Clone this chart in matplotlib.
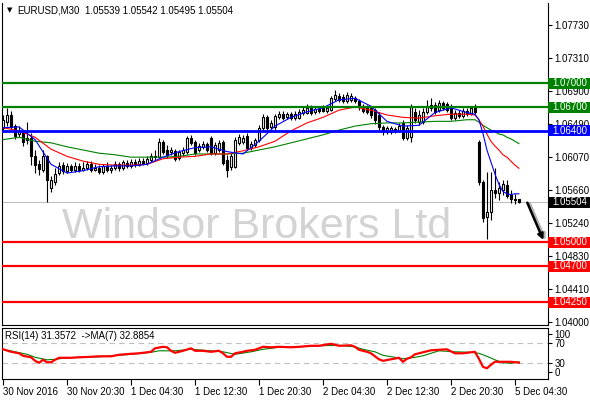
import matplotlib
matplotlib.use("Agg")
import matplotlib.pyplot as plt
from matplotlib.patches import Rectangle
from matplotlib.transforms import blended_transform_factory, offset_copy

plt.rcParams['font.family'] = ['Liberation Sans', 'DejaVu Sans']
plt.rcParams['lines.scale_dashes'] = False

# ---------------- data ----------------
symbol = "EURUSD,M30"
opens = [1.0644, 1.0651, 1.0660, 1.0646, 1.0636, 1.0639, 1.0629, 1.0631, 1.0608, 1.0598,
         1.0591, 1.0608, 1.0568, 1.0576, 1.0587, 1.0597, 1.0590, 1.0596, 1.0591, 1.0596,
         1.0591, 1.0593, 1.0598, 1.0591, 1.0593, 1.0588, 1.0596, 1.0591, 1.0593, 1.0598,
         1.0593, 1.0600, 1.0596, 1.0601, 1.0597, 1.0602, 1.0600, 1.0603, 1.0608, 1.0607,
         1.0626, 1.0616, 1.0614, 1.0615, 1.0606, 1.0612, 1.0614, 1.0631, 1.0626, 1.0616,
         1.0620, 1.0624, 1.0631, 1.0612, 1.0616, 1.0626, 1.0603, 1.0595, 1.0595, 1.0625,
         1.0626, 1.0634, 1.0619, 1.0622, 1.0629, 1.0644, 1.0657, 1.0645, 1.0645, 1.0657,
         1.0661, 1.0657, 1.0661, 1.0656, 1.0656, 1.0663, 1.0663, 1.0669, 1.0664, 1.0668,
         1.0669, 1.0665, 1.0666, 1.0680, 1.0684, 1.0683, 1.0678, 1.0679, 1.0681, 1.0678,
         1.0671, 1.0670, 1.0669, 1.0666, 1.0660, 1.0645, 1.0639, 1.0639, 1.0642, 1.0640,
         1.0650, 1.0631, 1.0632, 1.0664, 1.0651, 1.0651, 1.0664, 1.0669, 1.0673, 1.0666,
         1.0675, 1.0674, 1.0671, 1.0656, 1.0663, 1.0659, 1.0665, 1.0661, 1.0669, 1.0626,
         1.0576, 1.0532, 1.0538, 1.0566, 1.0562, 1.0566, 1.0572, 1.0560, 1.0555, 1.05539]
highs = [1.0660, 1.0669, 1.0665, 1.0649, 1.0646, 1.0641, 1.0651, 1.0637, 1.0616, 1.0603,
         1.0616, 1.0610, 1.0583, 1.0593, 1.0601, 1.0601, 1.0600, 1.0598, 1.0601, 1.0600,
         1.0601, 1.0602, 1.0602, 1.0598, 1.0597, 1.0598, 1.0601, 1.0597, 1.0602, 1.0601,
         1.0603, 1.0603, 1.0605, 1.0605, 1.0606, 1.0606, 1.0608, 1.0612, 1.0616, 1.0631,
         1.0629, 1.0622, 1.0620, 1.0617, 1.0616, 1.0620, 1.0634, 1.0635, 1.0629, 1.0625,
         1.0627, 1.0626, 1.0634, 1.0626, 1.0629, 1.0629, 1.0610, 1.0612, 1.0632, 1.0636,
         1.0635, 1.0637, 1.0627, 1.0631, 1.0647, 1.0661, 1.0660, 1.0654, 1.0661, 1.0665,
         1.0665, 1.0664, 1.0664, 1.0665, 1.0668, 1.0671, 1.0674, 1.0673, 1.0671, 1.0671,
         1.0673, 1.0673, 1.0684, 1.0691, 1.0688, 1.0686, 1.0689, 1.0688, 1.0684, 1.0680,
         1.0674, 1.0673, 1.0671, 1.0669, 1.0664, 1.0647, 1.0646, 1.0646, 1.0645, 1.0650,
         1.0654, 1.0647, 1.0674, 1.0669, 1.0666, 1.0669, 1.0679, 1.0681, 1.0676, 1.0679,
         1.0678, 1.0676, 1.0674, 1.0666, 1.0666, 1.0669, 1.0669, 1.0671, 1.0674, 1.0629,
         1.0578, 1.0588, 1.0588, 1.0593, 1.0576, 1.0578, 1.0578, 1.0566, 1.0561, 1.05542]
lows = [1.0640, 1.0646, 1.0642, 1.0630, 1.0632, 1.0621, 1.0624, 1.0597, 1.0587, 1.0585,
        1.0588, 1.0551, 1.0563, 1.0572, 1.0585, 1.0586, 1.0587, 1.0588, 1.0588, 1.0588,
        1.0590, 1.0591, 1.0588, 1.0590, 1.0586, 1.0586, 1.0588, 1.0587, 1.0591, 1.0590,
        1.0591, 1.0593, 1.0593, 1.0595, 1.0596, 1.0597, 1.0597, 1.0601, 1.0603, 1.0606,
        1.0611, 1.0606, 1.0610, 1.0602, 1.0603, 1.0608, 1.0611, 1.0622, 1.0610, 1.0614,
        1.0617, 1.0614, 1.0610, 1.0610, 1.0614, 1.0597, 1.0582, 1.0591, 1.0593, 1.0622,
        1.0624, 1.0616, 1.0616, 1.0620, 1.0626, 1.0641, 1.0641, 1.0642, 1.0641, 1.0655,
        1.0654, 1.0655, 1.0654, 1.0654, 1.0655, 1.0660, 1.0661, 1.0660, 1.0661, 1.0663,
        1.0664, 1.0663, 1.0665, 1.0678, 1.0676, 1.0675, 1.0675, 1.0676, 1.0675, 1.0666,
        1.0663, 1.0661, 1.0656, 1.0649, 1.0641, 1.0635, 1.0636, 1.0636, 1.0637, 1.0639,
        1.0629, 1.0629, 1.0626, 1.0650, 1.0647, 1.0649, 1.0661, 1.0665, 1.0661, 1.0664,
        1.0666, 1.0664, 1.0654, 1.0654, 1.0656, 1.0656, 1.0659, 1.0660, 1.0661, 1.0572,
        1.0526, 1.0504, 1.0528, 1.0556, 1.0553, 1.0560, 1.0556, 1.0549, 1.0548, 1.05495]
closes = [1.0654, 1.0660, 1.0645, 1.0634, 1.0640, 1.0626, 1.0631, 1.0608, 1.0597, 1.0592,
          1.0608, 1.0578, 1.0578, 1.0586, 1.0596, 1.0590, 1.0596, 1.0591, 1.0596, 1.0591,
          1.0593, 1.0598, 1.0591, 1.0593, 1.0588, 1.0596, 1.0591, 1.0593, 1.0598, 1.0593,
          1.0601, 1.0596, 1.0601, 1.0597, 1.0602, 1.0600, 1.0605, 1.0608, 1.0607, 1.0626,
          1.0614, 1.0610, 1.0616, 1.0605, 1.0614, 1.0616, 1.0631, 1.0625, 1.0612, 1.0621,
          1.0624, 1.0616, 1.0612, 1.0622, 1.0625, 1.0600, 1.0591, 1.0608, 1.0629, 1.0632,
          1.0631, 1.0619, 1.0624, 1.0629, 1.0644, 1.0657, 1.0644, 1.0650, 1.0659, 1.0661,
          1.0656, 1.0661, 1.0656, 1.0661, 1.0664, 1.0666, 1.0669, 1.0663, 1.0668, 1.0665,
          1.0665, 1.0669, 1.0681, 1.0685, 1.0679, 1.0678, 1.0685, 1.0684, 1.0678, 1.0670,
          1.0665, 1.0664, 1.0660, 1.0654, 1.0645, 1.0639, 1.0644, 1.0644, 1.0640, 1.0646,
          1.0631, 1.0644, 1.0670, 1.0654, 1.0660, 1.0664, 1.0671, 1.0673, 1.0664, 1.0675,
          1.0669, 1.0666, 1.0656, 1.0663, 1.0659, 1.0665, 1.0661, 1.0669, 1.0664, 1.0576,
          1.0531, 1.0538, 1.0566, 1.0562, 1.0568, 1.0573, 1.0558, 1.0555, 1.0553, 1.05504]

ma_bars = [0, 4, 8, 12, 16, 20, 24, 28, 32, 36, 40, 44, 48, 52, 56, 60, 64, 68, 72, 76,
           80, 84, 88, 92, 96, 100, 104, 108, 112, 116,
           118, 119, 120, 121, 122, 123, 124, 125, 126, 127, 128, 129]
ma_fast = [1.0644, 1.0645, 1.0629, 1.0598, 1.0587, 1.0590, 1.0595, 1.0596, 1.0596, 1.0598,
           1.0607, 1.0614, 1.0619, 1.0620, 1.0614, 1.0611, 1.0627, 1.0646, 1.0657, 1.0664,
           1.0669, 1.0679, 1.0681, 1.0671, 1.0652, 1.0646, 1.0647, 1.0663, 1.0669, 1.0663,
           1.0661, 1.0654, 1.0637, 1.0616, 1.0601, 1.0586, 1.0573, 1.0564, 1.0561, 1.0560,
           1.0561, 1.0561]
ma_mid = [1.0644, 1.0640, 1.0632, 1.0617, 1.0608, 1.0602, 1.0598, 1.0597, 1.0597, 1.0598,
          1.0605, 1.0607, 1.0608, 1.0611, 1.0611, 1.0615, 1.0620, 1.0627, 1.0640, 1.0650,
          1.0657, 1.0666, 1.0670, 1.0666, 1.0660, 1.0657, 1.0656, 1.0659, 1.0661, 1.0661,
          1.0660, 1.0654, 1.0646, 1.0636, 1.0627, 1.0621, 1.0616, 1.0610, 1.0607, 1.0602,
          1.0597, 1.0593]
ma_slow = [1.0629, 1.0632, 1.0627, 1.0625, 1.0620, 1.0616, 1.0612, 1.0610, 1.0607, 1.0607,
           1.0607, 1.0608, 1.0611, 1.0611, 1.0611, 1.0612, 1.0616, 1.0620, 1.0625, 1.0630,
           1.0635, 1.0641, 1.0646, 1.0649, 1.0650, 1.0650, 1.0651, 1.0652, 1.0652, 1.0654,
           1.0654, 1.0651, 1.0647, 1.0644, 1.0641, 1.0639, 1.0636, 1.0635, 1.0632, 1.0630,
           1.0627, 1.0624]

rsi_bars = [0, 2, 4, 5, 7, 8, 9, 10, 11, 12, 13, 14, 17, 19, 22, 24, 27, 29, 32, 34,
            37, 38, 40, 41, 42, 43, 45, 47, 48, 50, 52, 54, 55, 56, 57, 58, 60, 61, 63, 64,
            65, 67, 69, 72, 74, 77, 79, 82, 84, 87, 88, 89, 91, 92, 94, 95, 97, 99, 100, 101,
            102, 103, 105, 107, 109, 111, 113, 115, 117, 118, 119, 120, 121, 122, 123, 125, 127, 129]
rsi_vals = [58, 53, 50, 45, 42, 35, 31, 37, 32, 32, 37, 41, 41, 42, 43, 44, 44, 47, 49, 50,
            53, 60, 63, 62, 55, 51, 55, 60, 55, 55, 53, 55, 50, 43, 43, 50, 53, 55, 57, 60,
            63, 62, 63, 62, 63, 65, 65, 69, 65, 66, 63, 57, 53, 50, 38, 35, 38, 41, 33, 39,
            42, 48, 52, 56, 57, 58, 50, 50, 52, 53, 39, 23, 20, 27, 33, 33, 33, 31.3572]
rsi_ma_bars = [0, 3, 6, 8, 11, 13, 16, 19, 24, 32, 37, 39, 43, 47, 52, 55, 58, 62, 65, 69,
               74, 79, 84, 88, 90, 93, 95, 98, 100, 103, 105, 109, 113, 117, 119, 121, 123,
               125, 127, 129]
rsi_ma_vals = [58, 53, 48, 42, 37, 38, 41, 42, 43, 48, 52, 55, 55, 58, 55, 53, 48, 53, 58, 62,
               63, 65, 66, 63, 58, 53, 46, 42, 39, 42, 45, 55, 53, 52, 50, 44, 37, 31, 30, 32.8854]

price_ticks = [1.07730, 1.07310, 1.06900, 1.06490, 1.06070, 1.05660, 1.05240, 1.04830, 1.04410, 1.04000]
resistance_levels = [1.07000, 1.06700]
pivot_levels = [1.06400]
support_levels = [1.05000, 1.04700, 1.04250]
last_price = 1.05504
rsi_label_pos = [88.6, 70, 30, 12.6]
rsi_label_txt = ["100", "70", "30", "0"]
time_tick_bars = [0, 16, 32, 48, 64, 80, 96, 112, 128]
time_labels = ["30 Nov 2016", "30 Nov 20:30", "1 Dec 04:30", "1 Dec 12:30", "1 Dec 20:30",
               "2 Dec 04:30", "2 Dec 12:30", "2 Dec 20:30", "5 Dec 04:30"]
watermark = "Windsor Brokers Ltd"
arrow_start = (131.1, 1.05498)
arrow_end = (135.1, 1.05030)

# ---------------- layout ----------------
W, H = 590, 400
fig = plt.figure(figsize=(W / 100, H / 100), dpi=100)
fig.patch.set_facecolor('white')


def fx(px):
    return px / W


def fy(py):
    return 1 - py / H


L, R = 2.3, 547.7
ax = fig.add_axes([fx(L), fy(325), fx(R) - fx(L), fy(2.7) - fy(325)])
ax.set_xlim(-0.2, 136.2)
ax.set_ylim(1.03962, 1.08010)
for s in ['left', 'right', 'bottom']:
    ax.spines[s].set_linewidth(0.8)
    ax.spines[s].set_color('black')
ax.spines['top'].set_visible(False)
ax.set_xticks([])
ax.yaxis.tick_right()
ax.set_yticks(price_ticks, labels=[f"{v:.5f}" for v in price_ticks])
ax.tick_params(axis='y', length=3, width=0.8, pad=2, labelsize=7, direction='out')

# watermark
ax.text(0.467, 0.27, watermark, transform=ax.transAxes, ha='center', va='baseline',
        fontsize=31, color='#D3D3D3', zorder=0.5)

# last price line
ax.axhline(last_price, color='#C0C0C0', lw=0.8, zorder=1)

# candles
for i, (o, h, l, c) in enumerate(zip(opens, highs, lows, closes)):
    ax.vlines(i, l, h, color='black', lw=0.8, zorder=3)
    bottom = min(o, c)
    height = max(abs(c - o), 0.000015)
    ax.bar(i, height, bottom=bottom, width=0.55,
           color='white' if c > o else 'black', edgecolor='black', lw=0.8, zorder=3.5)

# moving averages
ax.plot(ma_bars, ma_slow, color='#008000', lw=0.8, zorder=4)
ax.plot(ma_bars, ma_mid, color='#FF0000', lw=0.8, zorder=4)
ax.plot(ma_bars, ma_fast, color='#0000FF', lw=0.8, zorder=4)

# horizontal levels
bt = blended_transform_factory(ax.transAxes, ax.transData)
box_w = (590 - R) / (R - L)
box_h = 11 / 7962


def level_box(level, color, text):
    ax.add_patch(Rectangle((1.0, level - box_h / 2), box_w, box_h, transform=bt,
                           facecolor=color, edgecolor='none', clip_on=False, zorder=6))
    ax.text(1.0 + 5 / (R - L), level, text, transform=bt, ha='left', va='center',
            color='white', fontsize=7, clip_on=False, zorder=7)


for lv in resistance_levels:
    ax.axhline(lv, color='#008000', lw=1.6, zorder=5)
    level_box(lv, '#008000', f"{lv:.5f}")
for lv in pivot_levels:
    ax.axhline(lv, color='#0000FF', lw=2.0, zorder=5)
    level_box(lv, '#0000FF', f"{lv:.5f}")
for lv in support_levels:
    ax.axhline(lv, color='#FF0000', lw=1.6, zorder=5)
    level_box(lv, '#FF0000', f"{lv:.5f}")
level_box(last_price, 'black', f"{last_price:.5f}")

# arrow with soft shadow
shadow_tr = offset_copy(ax.transData, fig=fig, x=2, y=-1, units='dots')
ax.annotate('', xy=arrow_end, xytext=arrow_start, xycoords=shadow_tr, textcoords=shadow_tr,
            arrowprops=dict(arrowstyle='-|>', color='#B0B0B0', lw=2.6, mutation_scale=8,
                            shrinkA=0, shrinkB=0), zorder=6)
ax.annotate('', xy=arrow_end, xytext=arrow_start,
            arrowprops=dict(arrowstyle='-|>', color='black', lw=1.8, mutation_scale=8,
                            shrinkA=0, shrinkB=0), zorder=7)

# title
fig.text(fx(7), fy(10.5), "\u25BC", fontsize=5, family='DejaVu Sans', va='center', ha='left')
fig.text(fx(17), fy(10.5), symbol, fontsize=7, va='center', ha='left')
fig.text(fx(85), fy(10.5),
         f"{opens[-1]:.5f} {highs[-1]:.5f} {lows[-1]:.5f} {closes[-1]:.5f}",
         fontsize=7, va='center', ha='left')

# ---------------- RSI panel ----------------
ax2 = fig.add_axes([fx(L), fy(379.3), fx(R) - fx(L), fy(327.5) - fy(379.3)])
ax2.set_xlim(-0.2, 136.2)
ax2.set_ylim(-2, 101.6)
for s in ax2.spines.values():
    s.set_linewidth(0.8)
    s.set_color('black')
ax2.axhline(70, color='#C0C0C0', lw=0.8, ls=(0, (4, 3)), zorder=1)
ax2.axhline(30, color='#C0C0C0', lw=0.8, ls=(0, (4, 3)), zorder=1)
ax2.plot(rsi_ma_bars, rsi_ma_vals, color='#008000', lw=0.8, zorder=3)
ax2.plot(rsi_bars, rsi_vals, color='#FF0000', lw=1.6, zorder=4)
ax2.yaxis.tick_right()
ax2.set_yticks(rsi_label_pos, labels=rsi_label_txt)
ax2.tick_params(axis='y', length=3, width=0.8, pad=2, labelsize=7, direction='out')
ax2.set_xticks(time_tick_bars, labels=time_labels)
ax2.tick_params(axis='x', length=4, width=0.8, pad=1.5, labelsize=7, direction='out')
for lbl in ax2.get_xticklabels():
    lbl.set_horizontalalignment('left')
ax2.text(fx(7) - fx(L), 0.83, f"RSI(14) {rsi_vals[-1]:.4f}  ->MA(7) {rsi_ma_vals[-1]:.4f}",
         transform=blended_transform_factory(fig.transFigure, ax2.transAxes),
         fontsize=7, va='center', ha='left')

fig.savefig("out.png", dpi=100, facecolor='white')
